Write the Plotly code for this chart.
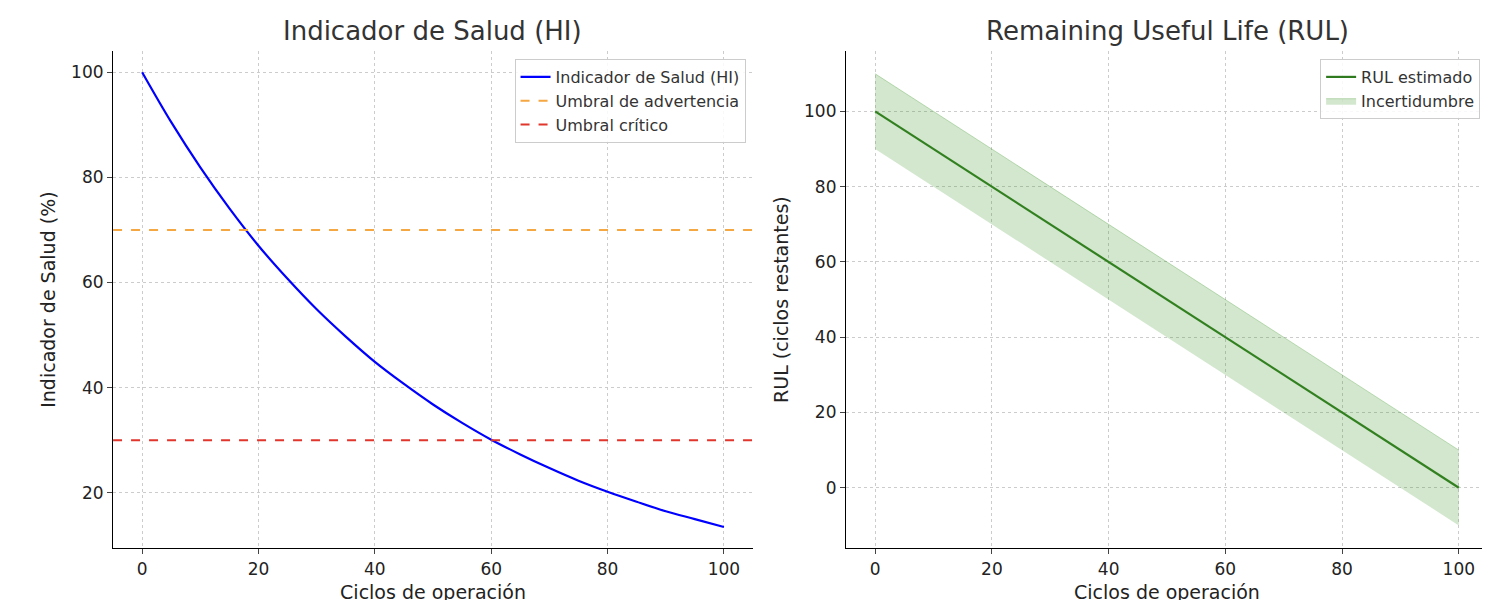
import plotly.graph_objects as go

# Health indicator (every 5 cycles)
ciclos = [0, 5, 10, 15, 20, 25, 30, 35, 40, 45, 50, 55, 60, 65, 70, 75, 80, 85, 90, 95, 100]
salud = [100, 90.5, 81.9, 74.1, 67.0, 60.7, 54.9, 49.7, 44.9, 40.7, 36.8,
         33.3, 30.1, 27.3, 24.7, 22.3, 20.2, 18.3, 16.5, 15.0, 13.5]
umbral_adv = 70
umbral_crit = 30

# RUL line and uncertainty band
rul_x = [0, 100]
rul_y = [100, 0]
rul_sup = [110, 10]
rul_inf = [90, -10]

font = "DejaVu Sans, Arial, sans-serif"
fig = go.Figure()

fig.add_trace(go.Scatter(x=ciclos, y=salud, mode="lines", name="Indicador de Salud (HI)", line_shape="spline",
                         line=dict(color="#0000ff", width=2.2), xaxis="x", yaxis="y", legend="legend"))
fig.add_trace(go.Scatter(x=[-5, 105], y=[umbral_adv, umbral_adv], mode="lines", name="Umbral de advertencia",
                         line=dict(color="#f5a742", width=2, dash="dash"), xaxis="x", yaxis="y", legend="legend"))
fig.add_trace(go.Scatter(x=[-5, 105], y=[umbral_crit, umbral_crit], mode="lines", name="Umbral crítico",
                         line=dict(color="#e0362c", width=2, dash="dash"), xaxis="x", yaxis="y", legend="legend"))

fig.add_trace(go.Scatter(x=rul_x, y=rul_y, mode="lines", name="RUL estimado",
                         line=dict(color="#2f7a1f", width=2.2), xaxis="x2", yaxis="y2", legend="legend2"))
fig.add_trace(go.Scatter(x=rul_x, y=rul_inf, mode="lines", line=dict(width=0), showlegend=False,
                         hoverinfo="skip", xaxis="x2", yaxis="y2"))
fig.add_trace(go.Scatter(x=rul_x, y=rul_sup, mode="lines", fill="tonexty", name="Incertidumbre",
                         fillcolor="rgba(60,150,40,0.23)", line=dict(color="rgba(60,150,40,0.3)", width=1),
                         xaxis="x2", yaxis="y2", legend="legend2"))

ax = dict(showline=True, linecolor="black", linewidth=1.2, ticks="outside", ticklen=5,
          showgrid=True, gridcolor="#cccccc", griddash="3px,3px", gridwidth=1, zeroline=False,
          tickfont=dict(size=17, color="#222"), mirror=False)
tf = dict(size=19, color="#222")
leg = dict(xanchor="right", yanchor="top", bgcolor="rgba(255,255,255,0.85)", bordercolor="#cccccc",
           borderwidth=1, font=dict(size=16, color="#333"), traceorder="normal")

fig.update_layout(
    width=1490, height=600, plot_bgcolor="white", paper_bgcolor="white",
    margin=dict(l=0, r=0, t=0, b=0), font=dict(family=font),
    xaxis=dict(ax, domain=[0.0705, 0.5], range=[-5, 105], dtick=20,
               title=dict(text="Ciclos de operación", font=tf, standoff=8)),
    yaxis=dict(ax, domain=[0.1, 0.928], range=[9.5, 104], dtick=20,
               title=dict(text="Indicador de Salud (%)", font=tf, standoff=10)),
    xaxis2=dict(ax, domain=[0.5624, 0.9933], range=[-5, 105], dtick=20, anchor="y2",
                title=dict(text="Ciclos de operación", font=tf, standoff=8)),
    yaxis2=dict(ax, domain=[0.1, 0.928], range=[-16, 116], dtick=20, anchor="x2",
                title=dict(text="RUL (ciclos restantes)", font=tf, standoff=10)),
    legend=dict(leg, x=0.495, y=0.915),
    legend2=dict(leg, x=0.988, y=0.915),
    annotations=[
        dict(text="Indicador de Salud (HI)", x=0.285, y=0.99, xref="paper", yref="paper", xanchor="center",
             showarrow=False, font=dict(size=26, color="#333"), yanchor="top"),
        dict(text="Remaining Useful Life (RUL)", x=0.778, y=0.99, xref="paper", yref="paper", xanchor="center",
             showarrow=False, font=dict(size=26, color="#333"), yanchor="top"),
    ],
)

fig.write_html("out.html")
